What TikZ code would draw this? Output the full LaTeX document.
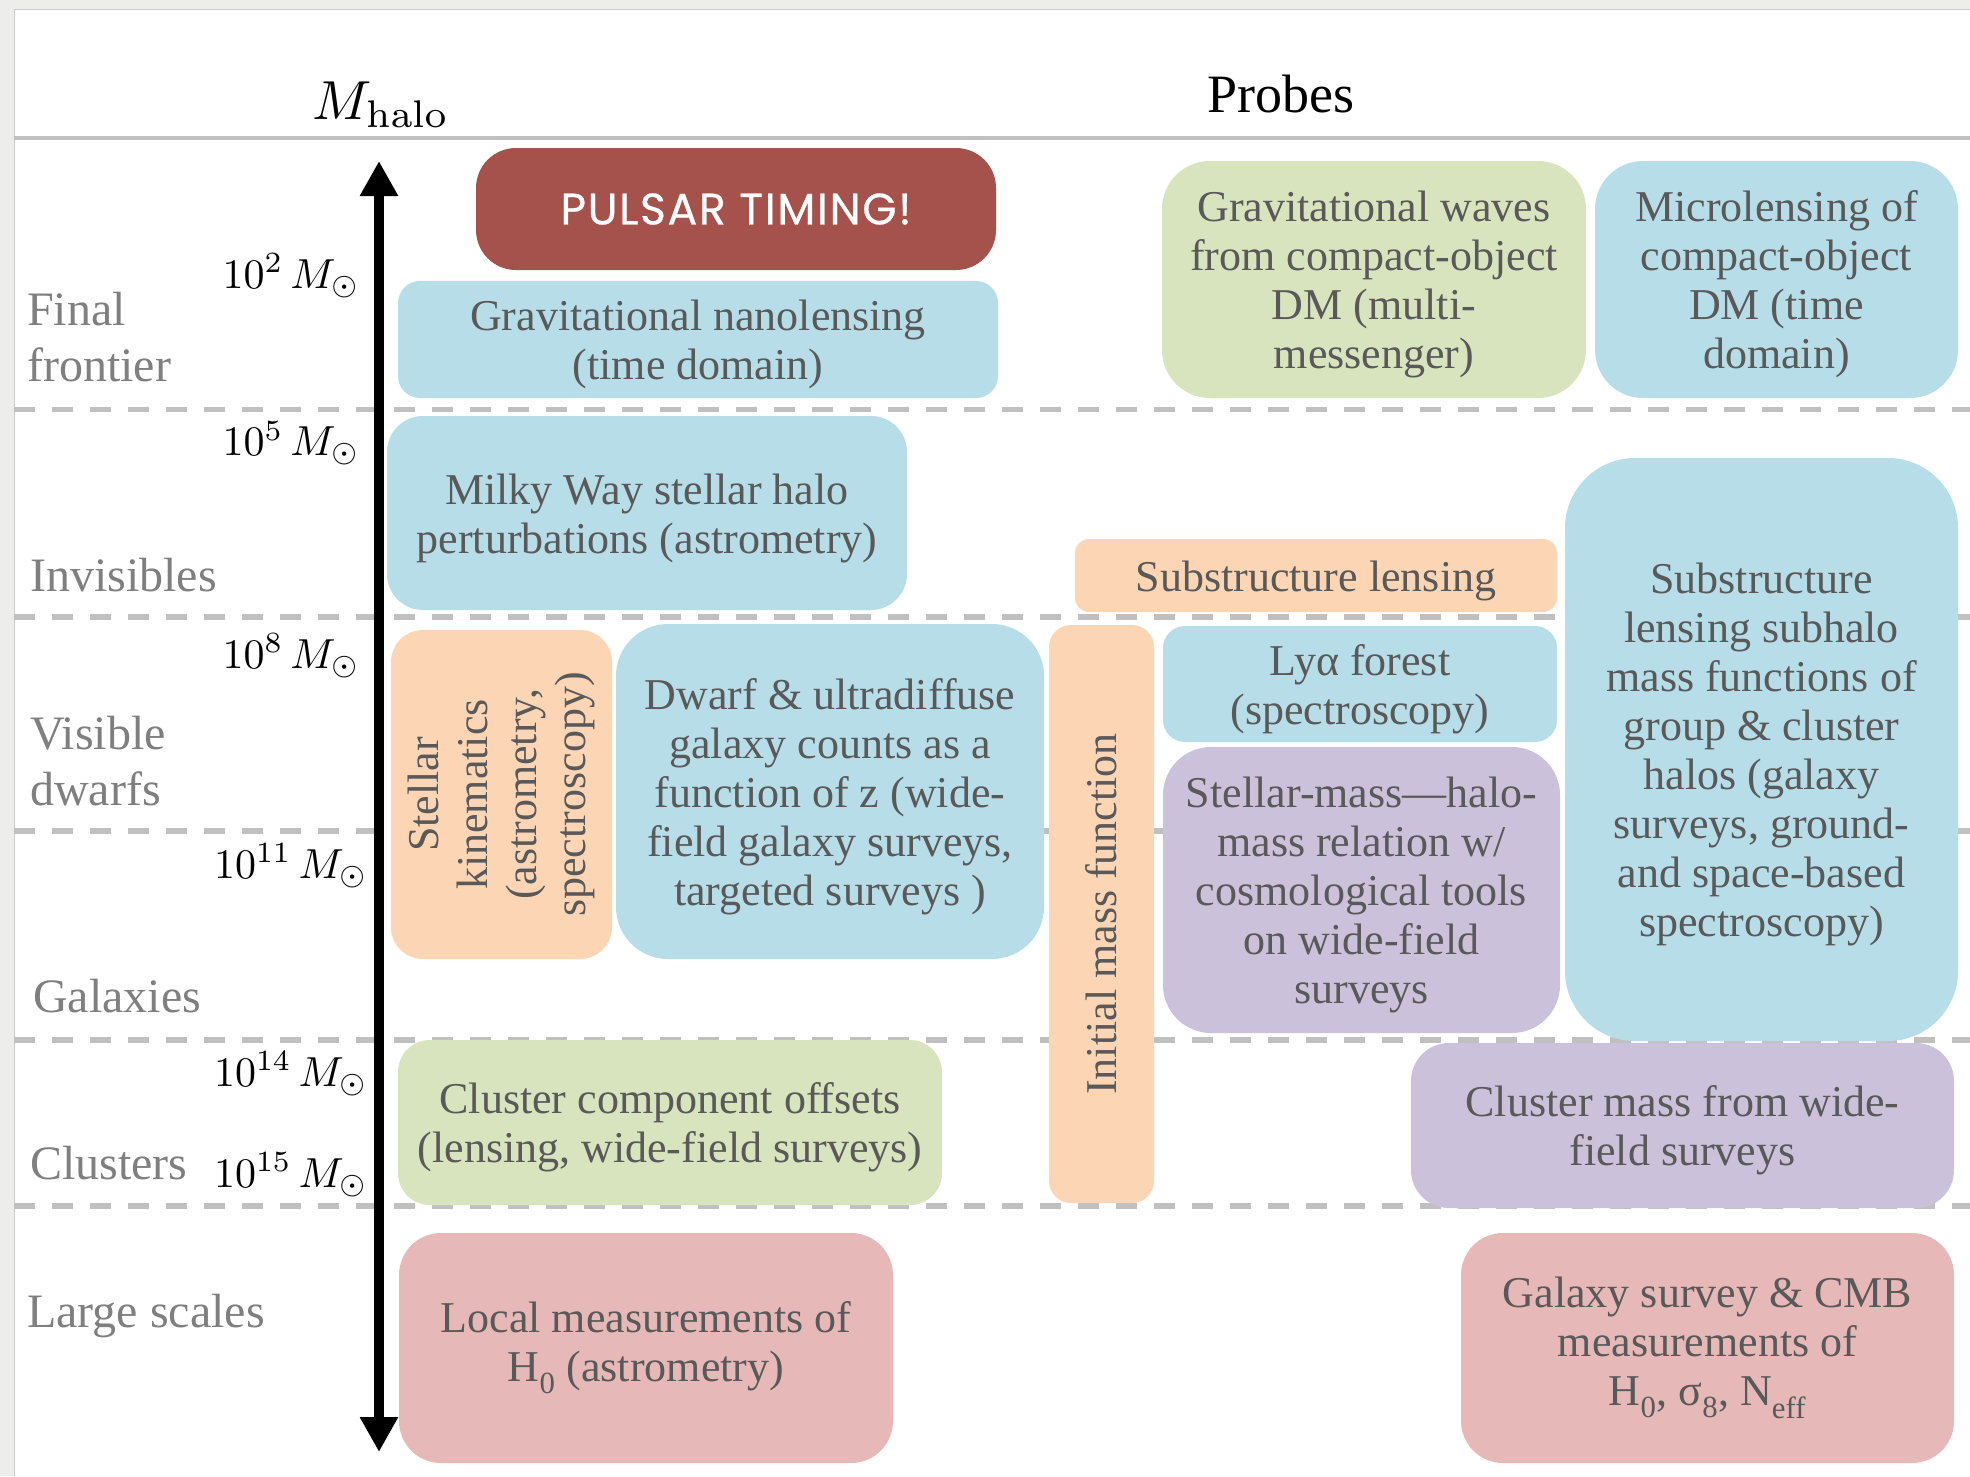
\documentclass[tikz,border=0pt]{standalone}
\usepackage{graphicx}
\usepackage[no-math]{fontspec}
\setmainfont{Liberation Serif}
\newfontfamily\pulsarfont[LetterSpace=4,FakeBold=0.6]{Poppins}
\usetikzlibrary{arrows.meta}
\definecolor{cblue}{HTML}{B7DDE8}
\definecolor{cgreen}{HTML}{D7E4BD}
\definecolor{cpeach}{HTML}{FCD5B5}
\definecolor{cpurple}{HTML}{CCC1DA}
\definecolor{cpink}{HTML}{E6B9B8}
\definecolor{cred}{HTML}{A4524B}
\definecolor{boxtext}{HTML}{595959}
\definecolor{lbltext}{HTML}{7F7F7F}
\definecolor{rulegray}{HTML}{C0C0C0}
\definecolor{framegray}{HTML}{EDEDEB}
\newcommand{\bigmath}[2]{\scalebox{#1}{\fontsize{10}{12}\selectfont$#2$}}
\newcommand{\probestrut}{\rule{0pt}{41pt}}
\tikzset{
  probe/.style={rounded corners=#1, inner sep=0pt, align=center, text=boxtext,
    font=\fontsize{44}{49}\selectfont},
  lbl/.style={anchor=base west, inner sep=0pt, align=left, text=lbltext,
    font=\fontsize{48}{56}\selectfont},
  masslbl/.style={anchor=base, inner sep=0pt},
  bandline/.style={rulegray, line width=5.5pt, dash pattern=on 21pt off 17pt},
}
\begin{document}
\begin{tikzpicture}[x=1pt,y=-1pt]
\useasboundingbox (0,0) rectangle (1970,1476);
\fill[framegray] (0,0) rectangle (1970,1476);
\fill[white] (14,9) rectangle (1970,1476);
\draw[gray!40, line width=1pt] (14,1476) -- (14,9) -- (1970,9);

% header
\node[anchor=base, inner sep=0pt] (mhalo) at (381,119) {\bigmath{5.5}{M_{\mathrm{halo}}}};
\node[anchor=base, inner sep=0pt, font=\fontsize{54}{60}\selectfont] (probes) at (1281,112) {Probes};
\draw[rulegray, line width=4pt] (14,138) -- (1970,138);

% band separators
\foreach \yy in {409.6,617,831,1040,1206}
  \draw[bandline] (14,\yy) -- (1970,\yy);

% band labels (base = last line)
\node[lbl] (lfinal) at (27,381) {Final\\frontier};
\node[lbl] (linvis) at (30,591) {Invisibles};
\node[lbl] (lvisible) at (30,805) {Visible\\dwarfs};
\node[lbl] (lgal) at (33,1012) {Galaxies};
\node[lbl] (lclus) at (30,1179) {Clusters};
\node[lbl] (llarge) at (27,1327) {Large scales};

% mass labels
\node[masslbl] (m2) at (291,288) {\bigmath{4.2}{10^{2}\,M_{\odot}}};
\node[masslbl] (m5) at (291,455.5) {\bigmath{4.2}{10^{5}\,M_{\odot}}};
\node[masslbl] (m8) at (291,668) {\bigmath{4.2}{10^{8}\,M_{\odot}}};
\node[masslbl] (m11) at (291,878) {\bigmath{4.2}{10^{11}\,M_{\odot}}};
\node[masslbl] (m14) at (291,1086) {\bigmath{4.2}{10^{14}\,M_{\odot}}};
\node[masslbl] (m15) at (291,1187) {\bigmath{4.2}{10^{15}\,M_{\odot}}};

% axis
\coordinate (axtop) at (379,161);
\coordinate (axbot) at (379,1452);
\draw[line width=10pt, {Triangle[length=35pt,width=36pt]}-{Triangle[length=35pt,width=36pt]}] (axtop) -- (axbot);

% probe boxes
\node[probe=40pt, fill=cred, minimum width=520pt, minimum height=122pt, text=white,
  font=\pulsarfont\fontsize{44}{50}\selectfont] (pulsar) at (736,209) {PULSAR TIMING!};
\node[probe=22pt, fill=cblue, minimum width=600pt, minimum height=117pt] (nano) at (698,339.5)
  {\probestrut Gravitational nanolensing\\(time domain)};
\node[probe=48pt, fill=cgreen, minimum width=424pt, minimum height=237pt] (gw) at (1374,279.5)
  {\probestrut Gravitational waves\\from compact-object\\DM (multi-\\messenger)};
\node[probe=48pt, fill=cblue, minimum width=363pt, minimum height=237pt] (micro) at (1776.5,279.5)
  {\probestrut Microlensing of\\compact-object\\DM (time\\domain)};
\node[probe=36pt, fill=cblue, minimum width=520pt, minimum height=194pt] (milky) at (647,513)
  {\probestrut Milky Way stellar halo\\perturbations (astrometry)};
\node[probe=32pt, fill=cpeach, rotate=90, minimum width=329pt, minimum height=221pt] (stellar) at (501.5,794.5)
  {Stellar\\kinematics\\(astrometry,\\spectroscopy)};
\node[probe=52pt, fill=cblue, minimum width=428pt, minimum height=335pt] (dwarf) at (830,791.5)
  {\probestrut Dwarf \& ultradiffuse\\galaxy counts as a\\function of z (wide-\\field galaxy surveys,\\targeted surveys )};
\node[probe=22pt, fill=cpeach, rotate=90, minimum width=578pt, minimum height=105pt] (imf) at (1101.5,914)
  {Initial mass function};
\node[probe=14pt, fill=cpeach, minimum width=482pt, minimum height=73pt] (sublens) at (1316,575.5)
  {\probestrut Substructure lensing};
\node[probe=22pt, fill=cblue, minimum width=394pt, minimum height=116pt] (lya) at (1360,684)
  {\probestrut Lyα forest\\(spectroscopy)};
\node[probe=48pt, fill=cpurple, minimum width=397pt, minimum height=286pt] (smhm) at (1361.5,890)
  {\probestrut Stellar-mass—halo-\\mass relation w/\\cosmological tools\\on wide-field\\surveys};
\node[probe=70pt, fill=cblue, minimum width=393pt, minimum height=583pt] (subhalo) at (1761.5,749.5)
  {\probestrut Substructure\\lensing subhalo\\mass functions of\\group \& cluster\\halos (galaxy\\surveys, ground-\\and space-based\\spectroscopy)};
\node[probe=32pt, fill=cgreen, minimum width=544pt, minimum height=165pt] (clustoff) at (670,1122.5)
  {\probestrut Cluster component offsets\\(lensing, wide-field surveys)};
\node[probe=38pt, fill=cpurple, minimum width=543pt, minimum height=165pt] (clustmass) at (1682.5,1125.5)
  {\probestrut Cluster mass from wide-\\field surveys};
\node[probe=42pt, fill=cpink, minimum width=494pt, minimum height=230pt] (local) at (646,1348)
  {Local measurements of\\H\textsubscript{0} (astrometry)};
\node[probe=42pt, fill=cpink, minimum width=493pt, minimum height=230pt] (cmb) at (1707.5,1348)
  {Galaxy survey \& CMB\\measurements of\\H\textsubscript{0}, σ\textsubscript{8}, N\textsubscript{eff}};
\end{tikzpicture}
\end{document}
